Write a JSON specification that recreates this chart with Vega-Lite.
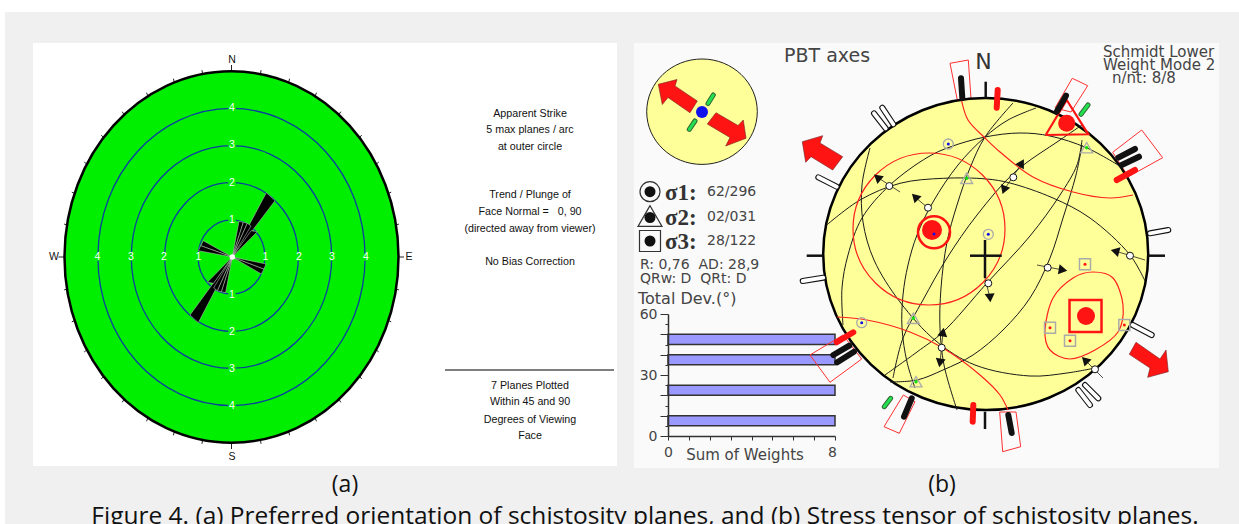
{"$schema":"https://vega.github.io/schema/vega-lite/v6.json","width":1239,"height":524,"padding":0,"autosize":"none","background":"white","config":{"view":{"stroke":null}},
"datasets":{
"bg":[{"x":5,"x2":1239,"y":12,"y2":524}],
"panelA":[{"x":33,"x2":617,"y":43,"y2":466}],
"panelB":[{"x":634,"x2":1219,"y":43,"y2":468}],
"disc":[{"x":231.5,"y":257,"radius":5}],
"rings":[{"x":231.5,"y":257,"radius":1},{"x":231.5,"y":257,"radius":2},{"x":231.5,"y":257,"radius":3},{"x":231.5,"y":257,"radius":4}],
"ringLabels":[{"x":232,"y":220,"t":"1"},{"x":232,"y":183,"t":"2"},{"x":232,"y":145,"t":"3"},{"x":232,"y":108,"t":"4"},{"x":232,"y":294.5,"t":"1"},{"x":232,"y":332,"t":"2"},{"x":232,"y":369,"t":"3"},{"x":232,"y":406,"t":"4"},{"x":198.5,"y":257,"t":"1"},{"x":164,"y":257,"t":"2"},{"x":131,"y":257,"t":"3"},{"x":97.5,"y":257,"t":"4"},{"x":265.5,"y":257,"t":"1"},{"x":299,"y":257,"t":"2"},{"x":332,"y":257,"t":"3"},{"x":366,"y":257,"t":"4"}],
"roseTicks":[{"x":231.5,"y":71,"x2":231.5,"y2":65},{"x":398.5,"y":257,"x2":404,"y2":257},{"x":231.5,"y":443,"x2":231.5,"y2":449},{"x":64.5,"y":257,"x2":58.5,"y2":257},
{"x":260.5,"y":74.1,"x2":261,"y2":70.2},{"x":288.6,"y":82.5,"x2":289.6,"y2":78.7},{"x":315,"y":96.2,"x2":316.5,"y2":92.7},{"x":338.8,"y":114.8,"x2":340.8,"y2":111.7},{"x":359.4,"y":137.6,"x2":361.7,"y2":135.1},{"x":376.1,"y":164.1,"x2":378.7,"y2":162.1},{"x":388.4,"y":193.5,"x2":391.2,"y2":192.1},{"x":396,"y":224.8,"x2":398.9,"y2":224.1},
{"x":396,"y":289.2,"x2":398.9,"y2":289.9},{"x":388.4,"y":320.5,"x2":391.2,"y2":321.9},{"x":376.1,"y":349.9,"x2":378.7,"y2":351.9},{"x":359.4,"y":376.4,"x2":361.7,"y2":378.9},{"x":338.8,"y":399.2,"x2":340.8,"y2":402.3},{"x":315,"y":417.8,"x2":316.5,"y2":421.3},{"x":288.6,"y":431.5,"x2":289.6,"y2":435.3},{"x":260.5,"y":439.9,"x2":261,"y2":443.8},
{"x":202.5,"y":439.9,"x2":202,"y2":443.8},{"x":174.4,"y":431.5,"x2":173.4,"y2":435.3},{"x":148,"y":417.8,"x2":146.5,"y2":421.3},{"x":124.2,"y":399.2,"x2":122.2,"y2":402.3},{"x":103.6,"y":376.4,"x2":101.3,"y2":378.9},{"x":86.9,"y":349.9,"x2":84.3,"y2":351.9},{"x":74.6,"y":320.5,"x2":71.8,"y2":321.9},{"x":67,"y":289.2,"x2":64.1,"y2":289.9},
{"x":67,"y":224.8,"x2":64.1,"y2":224.1},{"x":74.6,"y":193.5,"x2":71.8,"y2":192.1},{"x":86.9,"y":164.1,"x2":84.3,"y2":162.1},{"x":103.6,"y":137.6,"x2":101.3,"y2":135.1},{"x":124.2,"y":114.8,"x2":122.2,"y2":111.7},{"x":148,"y":96.2,"x2":146.5,"y2":92.7},{"x":174.4,"y":82.5,"x2":173.4,"y2":78.7},{"x":202.5,"y":74.1,"x2":202,"y2":70.2}],
"petals":[
{"id":"a","i":1,"x":232.3,"y":257},{"id":"a","i":2,"x":266.3,"y":192.7},{"id":"a","i":3,"x":275,"y":200.7},{"id":"a","i":4,"x":232.3,"y":257},
{"id":"b","i":1,"x":232.3,"y":257},{"id":"b","i":2,"x":190,"y":315},{"id":"b","i":3,"x":198.3,"y":322.7},{"id":"b","i":4,"x":232.3,"y":257},
{"id":"c","i":1,"x":232.3,"y":257},{"id":"c","i":2,"x":239,"y":221.3},{"id":"c","i":3,"x":243.3,"y":222.3},{"id":"c","i":4,"x":232.3,"y":257},
{"id":"d","i":1,"x":232.3,"y":257},{"id":"d","i":2,"x":243.3,"y":222.3},{"id":"d","i":3,"x":247.3,"y":223.3},{"id":"d","i":4,"x":232.3,"y":257},
{"id":"d2","i":1,"x":232.3,"y":257},{"id":"d2","i":2,"x":247.3,"y":223.3},{"id":"d2","i":3,"x":251,"y":226},{"id":"d2","i":4,"x":232.3,"y":257},
{"id":"e","i":1,"x":232.3,"y":257},{"id":"e","i":2,"x":251,"y":230.7},{"id":"e","i":3,"x":257.3,"y":231.7},{"id":"e","i":4,"x":232.3,"y":257},
{"id":"f","i":1,"x":232.3,"y":257},{"id":"f","i":2,"x":225.6,"y":292.7},{"id":"f","i":3,"x":221.3,"y":291.7},{"id":"f","i":4,"x":232.3,"y":257},
{"id":"g","i":1,"x":232.3,"y":257},{"id":"g","i":2,"x":221.3,"y":291.7},{"id":"g","i":3,"x":217.3,"y":290.7},{"id":"g","i":4,"x":232.3,"y":257},
{"id":"g2","i":1,"x":232.3,"y":257},{"id":"g2","i":2,"x":217.3,"y":290.7},{"id":"g2","i":3,"x":213.6,"y":288},{"id":"g2","i":4,"x":232.3,"y":257},
{"id":"h","i":1,"x":232.3,"y":257},{"id":"h","i":2,"x":213.6,"y":283.3},{"id":"h","i":3,"x":207.3,"y":282.3},{"id":"h","i":4,"x":232.3,"y":257},
{"id":"j","i":1,"x":232.3,"y":257},{"id":"j","i":2,"x":203.3,"y":240.7},{"id":"j","i":3,"x":200.7,"y":245.7},{"id":"j","i":4,"x":232.3,"y":257},
{"id":"k","i":1,"x":232.3,"y":257},{"id":"k","i":2,"x":200.7,"y":245.7},{"id":"k","i":3,"x":198.3,"y":250.7},{"id":"k","i":4,"x":232.3,"y":257},
{"id":"m","i":1,"x":232.3,"y":257},{"id":"m","i":2,"x":261.3,"y":274},{"id":"m","i":3,"x":263.9,"y":269},{"id":"m","i":4,"x":232.3,"y":257},
{"id":"n","i":1,"x":232.3,"y":257},{"id":"n","i":2,"x":263.9,"y":269},{"id":"n","i":3,"x":266,"y":264},{"id":"n","i":4,"x":232.3,"y":257}],
"center":[{"x":232.3,"y":257}],
"compass":[{"x":232,"y":60,"t":"N"},{"x":232,"y":456.5,"t":"S"},{"x":54,"y":257,"t":"W"},{"x":409,"y":257,"t":"E"}],
"noteText":[{"x":530,"y":114,"t":"Apparent Strike"},{"x":530,"y":130,"t":"5 max planes / arc"},{"x":530,"y":147,"t":"at outer circle"},{"x":530,"y":195,"t":"Trend / Plunge of"},{"x":530,"y":212,"t":"Face Normal =\u00a0\u00a0\u00a00, 90"},{"x":530,"y":229,"t":"(directed away from viewer)"},{"x":530,"y":262,"t":"No Bias Correction"},{"x":530,"y":386,"t":"7 Planes Plotted"},{"x":530,"y":402,"t":"Within 45 and 90"},{"x":530,"y":420,"t":"Degrees of Viewing"},{"x":530,"y":436,"t":"Face"}],
"noteRule":[{"x":445,"y":370,"x2":614,"y2":370}],
"subcaps":[{"x":345,"y":485,"t":"(a)"},{"x":942,"y":485,"t":"(b)"}],
"caption":[{"x":645,"y":516.5,"t":"Figure 4. (a) Preferred orientation of schistosity planes, and (b) Stress tensor of schistosity planes."}],
"bars":[{"from":0,"to":8,"low":45,"high":50},{"from":0,"to":8,"low":35,"high":40},{"from":0,"to":8,"low":20,"high":25},{"from":0,"to":8,"low":5,"high":10}],
"net":[{"x":985.7,"y":254}],
"inset":[{"x":702,"y":111.7}],
"insetDot":[{"x":702,"y":112}],
"redArrows":[
{"id":"a","i":1,"x":658.3,"y":84.3},{"id":"a","i":2,"x":677,"y":79.5},{"id":"a","i":3,"x":675,"y":86},{"id":"a","i":4,"x":697.3,"y":101},{"id":"a","i":5,"x":690,"y":112.7},{"id":"a","i":6,"x":668,"y":97.5},{"id":"a","i":7,"x":662.3,"y":104.5},{"id":"a","i":8,"x":658.3,"y":84.3},
{"id":"b","i":1,"x":716,"y":112.7},{"id":"b","i":2,"x":738,"y":125.5},{"id":"b","i":3,"x":743.3,"y":120},{"id":"b","i":4,"x":746,"y":138.3},{"id":"b","i":5,"x":725.7,"y":146},{"id":"b","i":6,"x":730,"y":137.5},{"id":"b","i":7,"x":707.3,"y":124},{"id":"b","i":8,"x":716,"y":112.7},
{"id":"c","i":1,"x":802.3,"y":141.7},{"id":"c","i":2,"x":822.7,"y":135.7},{"id":"c","i":3,"x":820,"y":143},{"id":"c","i":4,"x":842.7,"y":156.7},{"id":"c","i":5,"x":832.7,"y":170},{"id":"c","i":6,"x":811,"y":156.7},{"id":"c","i":7,"x":805.7,"y":162.3},{"id":"c","i":8,"x":802.3,"y":141.7},
{"id":"d","i":1,"x":1136,"y":342.3},{"id":"d","i":2,"x":1160,"y":359},{"id":"d","i":3,"x":1166,"y":350},{"id":"d","i":4,"x":1168.3,"y":371.7},{"id":"d","i":5,"x":1147.7,"y":377.3},{"id":"d","i":6,"x":1150,"y":368},{"id":"d","i":7,"x":1129.3,"y":354.3},{"id":"d","i":8,"x":1136,"y":342.3}],
"greenArrows":[{"x":713.3,"y":95,"x2":708,"y2":103.5},{"x":689.3,"y":129.3,"x2":695,"y2":121},{"x":1088,"y":105,"x2":1081,"y2":114.3},{"x":884.3,"y":406.7,"x2":890.7,"y2":398.3}],
"arcs":[
{"id":"A","i":1,"x":826.7,"y":225},{"id":"A","i":2,"x":860,"y":200},{"id":"A","i":3,"x":900,"y":183.3},{"id":"A","i":4,"x":943.3,"y":178.3},{"id":"A","i":5,"x":986.7,"y":179},{"id":"A","i":6,"x":1010,"y":183},{"id":"A","i":7,"x":1053,"y":198},{"id":"A","i":8,"x":1090,"y":218},{"id":"A","i":9,"x":1130,"y":255},{"id":"A","i":10,"x":1145,"y":281},
{"id":"B","i":1,"x":870,"y":148},{"id":"B","i":2,"x":862,"y":185},{"id":"B","i":3,"x":863,"y":222},{"id":"B","i":4,"x":874,"y":260},{"id":"B","i":5,"x":900,"y":302},{"id":"B","i":6,"x":936,"y":341},{"id":"B","i":7,"x":975,"y":365},{"id":"B","i":8,"x":1030,"y":376},{"id":"B","i":9,"x":1067,"y":373},{"id":"B","i":10,"x":1095,"y":368},
{"id":"C","i":1,"x":1013,"y":103},{"id":"C","i":2,"x":985,"y":137},{"id":"C","i":3,"x":970,"y":168},{"id":"C","i":4,"x":957,"y":205},{"id":"C","i":5,"x":947,"y":242},{"id":"C","i":6,"x":941,"y":288},{"id":"C","i":7,"x":940,"y":328},{"id":"C","i":8,"x":944,"y":365},{"id":"C","i":9,"x":957,"y":410},
{"id":"D","i":1,"x":843,"y":325},{"id":"D","i":2,"x":842,"y":288},{"id":"D","i":3,"x":848,"y":255},{"id":"D","i":4,"x":862,"y":218},{"id":"D","i":5,"x":890,"y":185},{"id":"D","i":6,"x":928,"y":157},{"id":"D","i":7,"x":950,"y":147},{"id":"D","i":8,"x":985,"y":137},{"id":"D","i":9,"x":1020,"y":133},{"id":"D","i":10,"x":1050,"y":136},{"id":"D","i":11,"x":1087,"y":148},{"id":"D","i":12,"x":1123,"y":168},
{"id":"E","i":1,"x":1036,"y":108},{"id":"E","i":2,"x":1008,"y":120},{"id":"E","i":3,"x":985,"y":137},{"id":"E","i":4,"x":958,"y":165},{"id":"E","i":5,"x":933,"y":202},{"id":"E","i":6,"x":917,"y":235},{"id":"E","i":7,"x":908,"y":265},{"id":"E","i":8,"x":903,"y":295},{"id":"E","i":9,"x":902,"y":328},{"id":"E","i":10,"x":907,"y":362},{"id":"E","i":11,"x":915,"y":388},
{"id":"F","i":1,"x":893,"y":378},{"id":"F","i":2,"x":903,"y":338},{"id":"F","i":3,"x":923,"y":300},{"id":"F","i":4,"x":947,"y":258},{"id":"F","i":5,"x":977,"y":215},{"id":"F","i":6,"x":1015,"y":172},{"id":"F","i":7,"x":1060,"y":140},{"id":"F","i":8,"x":1082,"y":125},
{"id":"G","i":1,"x":885,"y":375},{"id":"G","i":2,"x":917,"y":352},{"id":"G","i":3,"x":943,"y":332},{"id":"G","i":4,"x":987,"y":283},{"id":"G","i":5,"x":1030,"y":236},{"id":"G","i":6,"x":1060,"y":195},{"id":"G","i":7,"x":1077,"y":165},{"id":"G","i":8,"x":1082,"y":140},
{"id":"H","i":1,"x":890,"y":382},{"id":"H","i":2,"x":917,"y":380},{"id":"H","i":3,"x":943,"y":370},{"id":"H","i":4,"x":973,"y":355},{"id":"H","i":5,"x":1003,"y":330},{"id":"H","i":6,"x":1030,"y":298},{"id":"H","i":7,"x":1050,"y":258},{"id":"H","i":8,"x":1063,"y":218},{"id":"H","i":9,"x":1076,"y":175},{"id":"H","i":10,"x":1082,"y":145}],
"redContours":[
{"id":"p","i":1,"x":961.7,"y":101},{"id":"p","i":2,"x":968,"y":120},{"id":"p","i":3,"x":985,"y":138},{"id":"p","i":4,"x":1000,"y":152},{"id":"p","i":5,"x":1033,"y":177},{"id":"p","i":6,"x":1073,"y":192},{"id":"p","i":7,"x":1110,"y":198},{"id":"p","i":8,"x":1133,"y":195},
{"id":"q","i":1,"x":837,"y":317},{"id":"q","i":2,"x":867,"y":320},{"id":"q","i":3,"x":910,"y":332},{"id":"q","i":4,"x":943,"y":348},{"id":"q","i":5,"x":980,"y":375},{"id":"q","i":6,"x":1000,"y":395},{"id":"q","i":7,"x":1008,"y":410}],
"redLoop":[{"id":"r","i":1,"x":1045,"y":330},{"id":"r","i":2,"x":1053,"y":298},{"id":"r","i":3,"x":1073,"y":278},{"id":"r","i":4,"x":1093,"y":272},{"id":"r","i":5,"x":1113,"y":278},{"id":"r","i":6,"x":1123,"y":305},{"id":"r","i":7,"x":1118,"y":332},{"id":"r","i":8,"x":1095,"y":350},{"id":"r","i":9,"x":1070,"y":359},{"id":"r","i":10,"x":1050,"y":350}],
"bigContour":[{"x":929,"y":229}],
"ringS1":[{"x":934,"y":232.3}],
"blob":[{"x":932,"y":230}],
"s2Tri":[{"id":"t","i":1,"x":1045.7,"y":135},{"id":"t","i":2,"x":1066.7,"y":100},{"id":"t","i":3,"x":1088.3,"y":134.3},{"id":"t","i":4,"x":1045.7,"y":135}],
"s2Dot":[{"x":1066.7,"y":123.3}],
"s3Box":[{"x":1085.5,"y":316}],
"s3Dot":[{"x":1086,"y":316}],
"boxes":[
{"id":"1","i":1,"x":950,"y":63.3},{"id":"1","i":2,"x":968.3,"y":60},{"id":"1","i":3,"x":971,"y":98.3},{"id":"1","i":4,"x":957.3,"y":100},{"id":"1","i":5,"x":950,"y":63.3},
{"id":"2","i":1,"x":1072.3,"y":78.3},{"id":"2","i":2,"x":1087.7,"y":85.7},{"id":"2","i":3,"x":1071,"y":112},{"id":"2","i":4,"x":1055,"y":108},{"id":"2","i":5,"x":1072.3,"y":78.3},
{"id":"3","i":1,"x":1141.7,"y":130},{"id":"3","i":2,"x":1162.7,"y":157.7},{"id":"3","i":3,"x":1128.3,"y":176.7},{"id":"3","i":4,"x":1112.7,"y":152.3},{"id":"3","i":5,"x":1141.7,"y":130},
{"id":"4","i":1,"x":810,"y":355},{"id":"4","i":2,"x":830,"y":382.3},{"id":"4","i":3,"x":861.7,"y":359},{"id":"4","i":4,"x":843,"y":335},{"id":"4","i":5,"x":810,"y":355},
{"id":"5","i":1,"x":903.3,"y":395},{"id":"5","i":2,"x":884,"y":426.7},{"id":"5","i":3,"x":899.3,"y":433.3},{"id":"5","i":4,"x":915,"y":401.7},{"id":"5","i":5,"x":903.3,"y":395},
{"id":"6","i":1,"x":999.7,"y":412},{"id":"6","i":2,"x":1002.7,"y":451.7},{"id":"6","i":3,"x":1020.7,"y":446.7},{"id":"6","i":4,"x":1016,"y":412},{"id":"6","i":5,"x":999.7,"y":412}],
"pills":[{"x":874,"y":113.3,"x2":885.7,"y2":128.3},{"x":882.3,"y":107.7,"x2":893.3,"y2":124.3},{"x":818.3,"y":177.3,"x2":836.7,"y2":186.7},{"x":802.7,"y":281,"x2":823.3,"y2":277.7},{"x":1150,"y":233.3,"x2":1168.3,"y2":230},{"x":1132.7,"y":325,"x2":1151.7,"y2":335},{"x":1078.3,"y":390,"x2":1090,"y2":405},{"x":1085,"y":385,"x2":1098.3,"y2":398.3}],
"blackMarks":[{"x":961,"y":78.3,"x2":962.3,"y2":97.7},{"x":1066,"y":95.7,"x2":1056.7,"y2":111.7},{"x":1135,"y":149,"x2":1118.3,"y2":157.7},{"x":1139,"y":156.7,"x2":1121.7,"y2":165},{"x":833.3,"y":355,"x2":849.3,"y2":345.7},{"x":837.3,"y":362.3,"x2":854,"y2":351.7},{"x":911.7,"y":398.3,"x2":904,"y2":416.7},{"x":1008.3,"y":415,"x2":1011.7,"y2":433}],
"redMarks":[{"x":997.7,"y":90,"x2":996.7,"y2":107.7},{"x":1135,"y":170,"x2":1116.7,"y2":180},{"x":853.3,"y":332.3,"x2":836.7,"y2":342.3},{"x":973.3,"y":405,"x2":972.7,"y2":421.7}],
"crossTicks":[{"x":985.7,"y":81.7,"x2":985.7,"y2":98},{"x":806.7,"y":255.7,"x2":823.3,"y2":255.7},{"x":1148,"y":255.7,"x2":1165,"y2":255.7},{"x":985,"y":411.7,"x2":985,"y2":429},{"x":970,"y":255.7,"x2":1001.7,"y2":255.7},{"x":985,"y":240,"x2":985,"y2":278}],
"normals":[{"x":877,"y":177,"x2":900,"y2":192},{"x":915,"y":197,"x2":928,"y2":208},{"x":1004,"y":190,"x2":1022,"y2":163},{"x":985,"y":278,"x2":990,"y2":298},{"x":1037,"y":265,"x2":1063,"y2":270},{"x":1115,"y":251,"x2":1145,"y2":260},{"x":1085,"y":360,"x2":1103,"y2":378},{"x":940,"y":363,"x2":943,"y2":332}],
"slipDots":[{"x":889.3,"y":186},{"x":928,"y":207.7},{"x":1013.3,"y":177.3},{"x":988.3,"y":283.3},{"x":1047.7,"y":267.7},{"x":1130,"y":255.7},{"x":1095,"y":369.3},{"x":941.7,"y":347.7}],
"slipHeads":[{"x":877.3,"y":177.3,"dir":310},{"x":915,"y":196.7,"dir":315},{"x":1004,"y":190,"dir":200},{"x":1021.7,"y":163,"dir":30},{"x":990,"y":298,"dir":175},{"x":1063,"y":270,"dir":100},{"x":1115,"y":251,"dir":285},{"x":1085,"y":360,"dir":315},{"x":940,"y":363,"dir":190},{"x":943,"y":332,"dir":10}],
"s1Pts":[{"x":948.3,"y":144},{"x":988.3,"y":234.3},{"x":861.7,"y":322.7}],
"s1Blue":[{"x":948.3,"y":144},{"x":988.3,"y":234.3},{"x":861.7,"y":322.7},{"x":934,"y":234}],
"s2Pts":[{"x":966.7,"y":178.3},{"x":1086.7,"y":147.7},{"x":913.3,"y":318.3},{"x":916,"y":381.7}],
"s3Pts":[{"x":1085,"y":264.3},{"x":1050,"y":327.7},{"x":1070,"y":340.7},{"x":1124.3,"y":325}],
"legS1":[{"x":650,"y":191.7}],
"legS2":[{"x":650,"y":216}],
"legS3":[{"x":650,"y":241}],
"legDots":[{"x":650,"y":191.7},{"x":650,"y":217.5},{"x":650,"y":241}],
"sigma":[{"x":665,"y":193,"t":"σ1:"},{"x":665,"y":218,"t":"σ2:"},{"x":665,"y":242,"t":"σ3:"}],
"vals":[{"x":707,"y":192,"t":"62/296"},{"x":707,"y":217,"t":"02/031"},{"x":707,"y":241,"t":"28/122"},{"x":640,"y":265,"t":"R: 0,76\u00a0\u00a0AD: 28,9"},{"x":640,"y":279,"t":"QRw: D\u00a0\u00a0QRt: D"}],
"totalDev":[{"x":638,"y":298.5,"t":"Total Dev.(°)"}],
"sumW":[{"x":745,"y":455,"t":"Sum of Weights"}],
"title":[{"x":784,"y":56,"t":"PBT axes"}],
"north":[{"x":983.5,"y":62,"t":"N"}],
"schmidt":[{"x":1103,"y":52,"t":"Schmidt Lower"},{"x":1103,"y":65,"t":"Weight Mode 2"},{"x":1112,"y":78,"t":"n/nt: 8/8"}]
},
"resolve":{"scale":{"x":"independent","y":"independent"}},
"layer":[
{"encoding":{"x":{"field":"x","type":"quantitative","axis":null,"scale":{"domain":[0,1239],"range":[0,1239],"nice":false,"zero":false}},"y":{"field":"y","type":"quantitative","axis":null,"scale":{"domain":[0,524],"range":[0,524],"nice":false,"zero":false}}},
"layer":[
{"data":{"name":"bg"},"mark":{"type":"rect","fill":"#f0f0f0"},"encoding":{"x2":{"field":"x2"},"y2":{"field":"y2"}}},
{"data":{"name":"panelA"},"mark":{"type":"rect","fill":"#ffffff"},"encoding":{"x2":{"field":"x2"},"y2":{"field":"y2"}}},
{"data":{"name":"panelB"},"mark":{"type":"rect","fill":"#fafafa"},"encoding":{"x2":{"field":"x2"},"y2":{"field":"y2"}}},
{"data":{"name":"roseTicks"},"mark":{"type":"rule","color":"#222222","strokeWidth":1},"encoding":{"x2":{"field":"x2"},"y2":{"field":"y2"}}},
{"data":{"name":"disc"},"mark":{"type":"point","shape":"M-1,0A1,1.112,0,1,1,1,0A1,1.112,0,1,1,-1,0Z","filled":true,"fill":"#00ee00","stroke":"#000000","strokeWidth":2.5,"opacity":1},"encoding":{"size":{"field":"radius","type":"quantitative","legend":null,"scale":{"type":"pow","exponent":2,"domain":[0,5],"range":[0,111556]}}}},
{"data":{"name":"rings"},"mark":{"type":"point","shape":"M-1,0A1,1.112,0,1,1,1,0A1,1.112,0,1,1,-1,0Z","filled":false,"fill":null,"stroke":"#0a40a0","strokeWidth":1.3,"opacity":1},"encoding":{"size":{"field":"radius","type":"quantitative","legend":null,"scale":{"type":"pow","exponent":2,"domain":[0,5],"range":[0,111556]}}}},
{"data":{"name":"ringLabels"},"mark":{"type":"point","shape":"circle","filled":true,"fill":"#00ee00","stroke":null,"size":60,"opacity":1}},
{"data":{"name":"ringLabels"},"mark":{"type":"text","font":"Liberation Sans","fontSize":10.5,"fill":"#ffffff","align":"center","baseline":"middle"},"encoding":{"text":{"field":"t"}}},
{"data":{"name":"petals"},"mark":{"type":"line","filled":true,"fill":"#000000","stroke":"#cfcfcf","strokeWidth":0.5,"strokeJoin":"miter"},"encoding":{"detail":{"field":"id"},"order":{"field":"i"}}},
{"data":{"name":"center"},"mark":{"type":"point","shape":"circle","filled":true,"fill":"#ffffff","stroke":null,"size":30,"opacity":1}},
{"data":{"name":"compass"},"mark":{"type":"text","font":"Liberation Sans","fontSize":10.5,"fill":"#111111","align":"center","baseline":"middle"},"encoding":{"text":{"field":"t"}}},
{"data":{"name":"noteText"},"mark":{"type":"text","font":"Liberation Sans","fontSize":10.7,"fill":"#111111","align":"center","baseline":"middle"},"encoding":{"text":{"field":"t"}}},
{"data":{"name":"noteRule"},"mark":{"type":"rule","color":"#555555","strokeWidth":1.5},"encoding":{"x2":{"field":"x2"},"y2":{"field":"y2"}}},
{"data":{"name":"subcaps"},"mark":{"type":"text","font":"Open Sans","fontSize":23,"fill":"#111111","align":"center","baseline":"middle"},"encoding":{"text":{"field":"t"}}},
{"data":{"name":"caption"},"mark":{"type":"text","font":"Open Sans","fontSize":24.5,"fill":"#111111","align":"center","baseline":"middle"},"encoding":{"text":{"field":"t"}}}
]},
{"data":{"name":"bars"},"mark":{"type":"rect","fill":"#9999ff","stroke":"#333333","strokeWidth":1.5},
"encoding":{"x":{"field":"from","type":"quantitative","scale":{"domain":[0,8],"range":[668,835],"nice":false,"zero":false},"axis":{"orient":"bottom","offset":-88,"zindex":1,"title":null,"grid":false,"values":[0,1,2,3,4,5,6,7,8],"labelExpr":"datum.value==0||datum.value==8?datum.label:''","labelOverlap":false,"labelFlush":false,"labelOffset":{"expr":"datum.value==8?-3:0"},"labelFont":"DejaVu Sans","labelFontSize":14,"labelColor":"#444444","labelPadding":5,"tickSize":4,"tickColor":"#333333","domainColor":"#333333","domainWidth":1.5}},"x2":{"field":"to"},
"y":{"field":"low","type":"quantitative","scale":{"domain":[0,60],"range":[436,314],"nice":false,"zero":false},"axis":{"orient":"left","offset":-668,"zindex":1,"title":null,"grid":false,"values":[0,5,10,15,20,25,30,35,40,45,50,55,60],"labelExpr":"datum.value%30==0?datum.label:''","labelOverlap":false,"labelFlush":false,"labelFont":"DejaVu Sans","labelFontSize":14,"labelColor":"#444444","labelPadding":3,"tickSize":{"expr":"datum.value%10==0?8:3"},"tickColor":"#333333","domainColor":"#333333","domainWidth":1.5}},"y2":{"field":"high"}}},
{"encoding":{"x":{"field":"x","type":"quantitative","axis":null,"scale":{"domain":[0,1239],"range":[0,1239],"nice":false,"zero":false}},"y":{"field":"y","type":"quantitative","axis":null,"scale":{"domain":[0,524],"range":[0,524],"nice":false,"zero":false}}},
"layer":[
{"data":{"name":"boxes"},"mark":{"type":"line","color":"#ff3030","strokeWidth":1},"encoding":{"detail":{"field":"id"},"order":{"field":"i"}}},
{"data":{"name":"net"},"mark":{"type":"point","shape":"M-1,0A1,0.96,0,1,1,1,0A1,0.96,0,1,1,-1,0Z","filled":true,"fill":"#ffff99","stroke":"#000000","strokeWidth":2.5,"size":105625,"opacity":1}},
{"data":{"name":"inset"},"mark":{"type":"point","shape":"M-1,0A1,0.953,0,1,1,1,0A1,0.953,0,1,1,-1,0Z","filled":true,"fill":"#ffff99","stroke":"#222222","strokeWidth":1,"size":12232,"opacity":1}},
{"data":{"name":"insetDot"},"mark":{"type":"point","shape":"circle","filled":true,"fill":"#1010ee","stroke":null,"size":144,"opacity":1}},
{"data":{"name":"redArrows"},"mark":{"type":"line","filled":true,"fill":"#ff1414","stroke":"#702020","strokeWidth":0.6,"strokeJoin":"miter"},"encoding":{"detail":{"field":"id"},"order":{"field":"i"}}},
{"data":{"name":"greenArrows"},"mark":{"type":"rule","color":"#336633","strokeWidth":5,"strokeCap":"round"},"encoding":{"x2":{"field":"x2"},"y2":{"field":"y2"}}},
{"data":{"name":"greenArrows"},"mark":{"type":"rule","color":"#22e050","strokeWidth":3,"strokeCap":"round"},"encoding":{"x2":{"field":"x2"},"y2":{"field":"y2"}}},
{"data":{"name":"arcs"},"mark":{"type":"line","color":"#1a1a1a","strokeWidth":1,"interpolate":"catmull-rom"},"encoding":{"detail":{"field":"id"},"order":{"field":"i"}}},
{"data":{"name":"normals"},"mark":{"type":"rule","color":"#222222","strokeWidth":0.8},"encoding":{"x2":{"field":"x2"},"y2":{"field":"y2"}}},
{"data":{"name":"redContours"},"mark":{"type":"line","color":"#ff2020","strokeWidth":1.2,"interpolate":"catmull-rom"},"encoding":{"detail":{"field":"id"},"order":{"field":"i"}}},
{"data":{"name":"redLoop"},"mark":{"type":"line","color":"#ff2020","strokeWidth":1.2,"interpolate":"cardinal-closed"},"encoding":{"detail":{"field":"id"},"order":{"field":"i"}}},
{"data":{"name":"bigContour"},"mark":{"type":"point","shape":"circle","filled":false,"fill":null,"stroke":"#ff2020","strokeWidth":1.2,"size":23104,"opacity":1}},
{"data":{"name":"ringS1"},"mark":{"type":"point","shape":"circle","filled":false,"fill":null,"stroke":"#ff1414","strokeWidth":2.5,"size":1024,"opacity":1}},
{"data":{"name":"blob"},"mark":{"type":"point","shape":"circle","filled":true,"fill":"#ff1414","stroke":null,"size":400,"opacity":1}},
{"data":{"name":"s2Dot"},"mark":{"type":"point","shape":"circle","filled":true,"fill":"#ff1414","stroke":null,"size":289,"opacity":1}},
{"data":{"name":"s2Tri"},"mark":{"type":"line","color":"#ff1414","strokeWidth":2.2,"strokeJoin":"miter"},"encoding":{"detail":{"field":"id"},"order":{"field":"i"}}},
{"data":{"name":"s3Dot"},"mark":{"type":"point","shape":"circle","filled":true,"fill":"#ff1414","stroke":null,"size":324,"opacity":1}},
{"data":{"name":"s3Box"},"mark":{"type":"point","shape":"square","filled":false,"fill":null,"stroke":"#ff1414","strokeWidth":2.5,"size":1024,"opacity":1}},
{"data":{"name":"pills"},"mark":{"type":"rule","color":"#111111","strokeWidth":6,"strokeCap":"round"},"encoding":{"x2":{"field":"x2"},"y2":{"field":"y2"}}},
{"data":{"name":"pills"},"mark":{"type":"rule","color":"#ffffff","strokeWidth":3.8,"strokeCap":"round"},"encoding":{"x2":{"field":"x2"},"y2":{"field":"y2"}}},
{"data":{"name":"blackMarks"},"mark":{"type":"rule","color":"#111111","strokeWidth":6,"strokeCap":"round"},"encoding":{"x2":{"field":"x2"},"y2":{"field":"y2"}}},
{"data":{"name":"redMarks"},"mark":{"type":"rule","color":"#ff1414","strokeWidth":6,"strokeCap":"round"},"encoding":{"x2":{"field":"x2"},"y2":{"field":"y2"}}},
{"data":{"name":"crossTicks"},"mark":{"type":"rule","color":"#111111","strokeWidth":2.5},"encoding":{"x2":{"field":"x2"},"y2":{"field":"y2"}}},
{"data":{"name":"slipHeads"},"mark":{"type":"point","shape":"triangle-up","filled":true,"fill":"#111111","stroke":null,"size":100,"opacity":1},"encoding":{"angle":{"field":"dir","type":"quantitative","scale":{"domain":[0,360],"range":[0,360]}}}},
{"data":{"name":"slipDots"},"mark":{"type":"point","shape":"circle","filled":true,"fill":"#ffffff","stroke":"#111111","strokeWidth":1,"size":49,"opacity":1}},
{"data":{"name":"s1Pts"},"mark":{"type":"point","shape":"circle","filled":false,"fill":null,"stroke":"#aaaaaa","strokeWidth":1.3,"size":100,"opacity":1}},
{"data":{"name":"s1Blue"},"mark":{"type":"point","shape":"circle","filled":true,"fill":"#1010ee","stroke":null,"size":9,"opacity":1}},
{"data":{"name":"s2Pts"},"mark":{"type":"point","shape":"triangle-up","filled":false,"fill":null,"stroke":"#aaaaaa","strokeWidth":1.3,"size":144,"opacity":1}},
{"data":{"name":"s2Pts"},"mark":{"type":"point","shape":"circle","filled":true,"fill":"#10e010","stroke":null,"size":12,"opacity":1}},
{"data":{"name":"s3Pts"},"mark":{"type":"point","shape":"square","filled":false,"fill":null,"stroke":"#aaaaaa","strokeWidth":1.5,"size":121,"opacity":1}},
{"data":{"name":"s3Pts"},"mark":{"type":"point","shape":"circle","filled":true,"fill":"#ff1414","stroke":null,"size":9,"opacity":1}},
{"data":{"name":"legS1"},"mark":{"type":"point","shape":"circle","filled":false,"fill":null,"stroke":"#333333","strokeWidth":1.2,"size":400,"opacity":1}},
{"data":{"name":"legS2"},"mark":{"type":"point","shape":"triangle-up","filled":false,"fill":null,"stroke":"#333333","strokeWidth":1.2,"size":576,"opacity":1}},
{"data":{"name":"legS3"},"mark":{"type":"point","shape":"square","filled":false,"fill":null,"stroke":"#333333","strokeWidth":1.2,"size":441,"opacity":1}},
{"data":{"name":"legDots"},"mark":{"type":"point","shape":"circle","filled":true,"fill":"#111111","stroke":null,"size":121,"opacity":1}},
{"data":{"name":"sigma"},"mark":{"type":"text","font":"Liberation Serif","fontSize":23,"fontWeight":"bold","fill":"#333333","align":"left","baseline":"middle"},"encoding":{"text":{"field":"t"}}},
{"data":{"name":"vals"},"mark":{"type":"text","font":"DejaVu Sans","fontSize":14,"fill":"#444444","align":"left","baseline":"middle"},"encoding":{"text":{"field":"t"}}},
{"data":{"name":"totalDev"},"mark":{"type":"text","font":"DejaVu Sans","fontSize":16,"fill":"#444444","align":"left","baseline":"middle"},"encoding":{"text":{"field":"t"}}},
{"data":{"name":"sumW"},"mark":{"type":"text","font":"DejaVu Sans","fontSize":15,"fill":"#444444","align":"center","baseline":"middle"},"encoding":{"text":{"field":"t"}}},
{"data":{"name":"title"},"mark":{"type":"text","font":"DejaVu Sans","fontSize":19,"fill":"#444444","align":"left","baseline":"middle"},"encoding":{"text":{"field":"t"}}},
{"data":{"name":"north"},"mark":{"type":"text","font":"DejaVu Sans","fontSize":22,"fill":"#333333","align":"center","baseline":"middle"},"encoding":{"text":{"field":"t"}}},
{"data":{"name":"schmidt"},"mark":{"type":"text","font":"DejaVu Sans","fontSize":15,"fill":"#444444","align":"left","baseline":"middle"},"encoding":{"text":{"field":"t"}}}
]}
]}
